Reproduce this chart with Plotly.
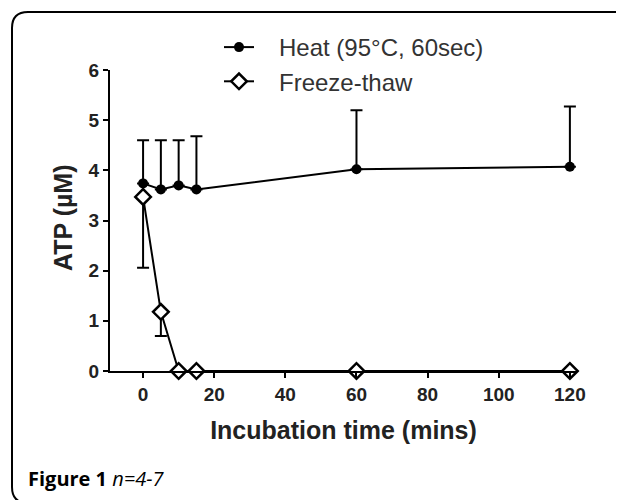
import plotly.graph_objects as go

# ---- data ----
time_min = [0, 5, 10, 15, 60, 120]
heat_mean = [3.74, 3.62, 3.70, 3.62, 4.02, 4.07]
heat_sd = [0.86, 0.98, 0.90, 1.06, 1.18, 1.20]
freeze_time = [0, 5, 10, 15, 60, 120]
freeze_mean = [3.47, 1.18, 0.0, 0.0, 0.0, 0.0]
freeze_sd = [1.41, 0.48, 0.0, 0.0, 0.0, 0.0]
series_names = ["Heat (95°C, 60sec)", "Freeze-thaw"]
x_ticks = [0, 20, 40, 60, 80, 100, 120]
y_ticks = [0, 1, 2, 3, 4, 5, 6]

W, H = 624, 500
OFF = 8  # page body margin offset
ML, MR, MT, MB = 110 - OFF, 47 + OFF, 70 - OFF, 129 + OFF
PW, PH = W - ML - MR, H - MT - MB

def px(x):
    return (x - OFF - ML) / PW

def py(y):
    return (H - MB - (y - OFF)) / PH

FONT = "Arial, Liberation Sans, sans-serif"
PAD = "\u00a0" * 3

fig = go.Figure()

fig.add_trace(go.Scatter(
    x=time_min, y=heat_mean, name=PAD + series_names[0],
    legendgroup="heat",
    mode="lines+markers",
    line=dict(color="black", width=2),
    marker=dict(symbol="circle", size=10, color="black"),
    error_y=dict(type="data", symmetric=False, array=heat_sd,
                 arrayminus=[0] * len(heat_sd), color="black",
                 thickness=2, width=6),
    cliponaxis=False,
))
fig.add_trace(go.Scatter(
    x=freeze_time, y=freeze_mean, name=PAD + series_names[1],
    legendgroup="freeze",
    mode="lines+markers",
    line=dict(color="black", width=2),
    marker=dict(symbol="diamond", size=12, color="white",
                line=dict(color="black", width=2.5)),
    error_y=dict(type="data", symmetric=False, array=[0] * len(freeze_sd),
                 arrayminus=freeze_sd, color="black",
                 thickness=2, width=6),
    cliponaxis=False,
))

# rounded frame
def pth():
    a, b, c, d, r = 12, 12, 650, 503, 16
    pts = [
        f"M {px(a + r)} {py(b)}",
        f"L {px(c)} {py(b)}",
        f"M {px(a + r)} {py(b)}",
        f"Q {px(a)} {py(b)} {px(a)} {py(b + r)}",
        f"L {px(a)} {py(d - r)}",
        f"Q {px(a)} {py(d)} {px(a + r)} {py(d)}",
        f"L {px(c)} {py(d)}",
    ]
    return " ".join(pts)

fig.add_shape(type="path", path=pth(), xref="paper", yref="paper",
              line=dict(color="black", width=2))

fig.add_annotation(
    text="<b>Figure 1</b> <i>n=4-7</i>", xref="paper", yref="paper",
    x=px(26), y=py(478), xanchor="left", yanchor="middle", showarrow=False,
    font=dict(family="Open Sans, Noto Sans, sans-serif", size=20, color="black"),
)

# y-axis title
fig.add_annotation(
    text="ATP (µM)", xref="paper", yref="paper",
    x=px(63), y=py(218), xanchor="center", yanchor="middle", showarrow=False,
    textangle=-90,
    font=dict(family=FONT, size=25, color="#222", weight="bold"),
)

fig.update_layout(
    width=W, height=H,
    margin=dict(l=ML, r=MR, t=MT, b=MB, autoexpand=False),
    paper_bgcolor="white", plot_bgcolor="white",
    font=dict(family=FONT, color="#222"),
    showlegend=True,
    legend=dict(xref="container", yref="container",
                x=(219 - OFF) / W, y=1 - (25 - OFF) / H,
                xanchor="left", yanchor="top",
                font=dict(family=FONT, size=24, color="#333"),
                bgcolor="rgba(0,0,0,0)", itemwidth=30, tracegroupgap=0),
    xaxis=dict(range=[-9.3, 122], tickvals=x_ticks, showgrid=False,
               zeroline=False, showline=True, linecolor="black", linewidth=2,
               ticks="outside", ticklen=5, tickwidth=2, tickcolor="black",
               automargin=True,
               tickfont=dict(family=FONT, size=19, color="#222", weight="bold"),
               title=dict(text="Incubation time (mins)",
                          font=dict(family=FONT, size=25, color="#222", weight="bold"),
                          standoff=18)),
    yaxis=dict(range=[0, 6], tickvals=y_ticks, showgrid=False,
               zeroline=False, showline=True, linecolor="black", linewidth=2,
               ticks="outside", ticklen=5, tickwidth=2, tickcolor="black",
               automargin=True,
               tickfont=dict(family=FONT, size=19, color="#222", weight="bold")),
)

fig.write_html("out.html")
